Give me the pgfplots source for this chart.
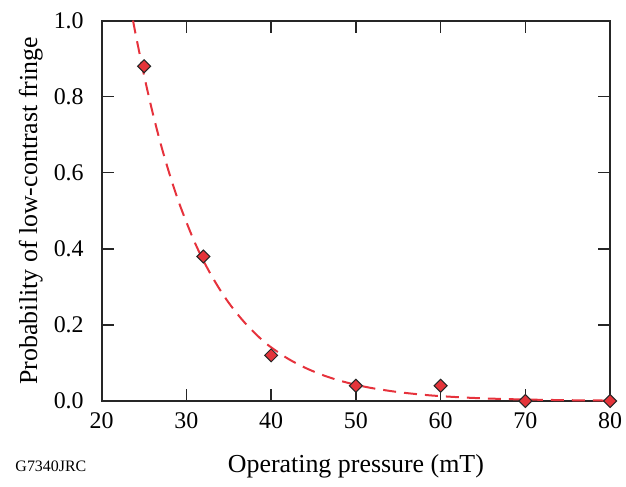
\documentclass[border=0pt]{standalone}
\usepackage{pgfplots}
\pgfplotsset{compat=1.18}
\usepackage{fontspec}
\setmainfont{Liberation Serif}
\definecolor{mred}{RGB}{228,52,58}
\definecolor{lred}{RGB}{230,50,60}
\begin{document}
\begin{tikzpicture}
\begin{axis}[
  scale only axis,
  width=254.2bp, height=190.2bp,
  xmin=20, xmax=80, ymin=0, ymax=1.0,
  xtick={20,30,...,80},
  ytick={0,0.2,...,1.0},
  tick align=inside,
  major tick length=6bp,
  minor tick num=0,
  axis line style={line width=1bp, black!85},
  every tick/.style={line width=0.7bp, black!85},
  /pgf/number format/assume math mode=true,
  tick label style={font=\fontsize{12}{14}\selectfont},
  yticklabel style={/pgf/number format/.cd, fixed, fixed zerofill, precision=1},
  yticklabel shift=5.5bp,
  xticklabel shift=2.5bp,
  xlabel={Operating pressure (mT)},
  ylabel={Probability of low-contrast fringe},
  label style={font=\fontsize{13}{15}\selectfont},
  xlabel style={at={(rel axis cs:0.5,-0.171)}, anchor=center},
  ylabel style={at={(rel axis cs:-0.1397,0.5)}, anchor=center, rotate=0},
  clip mode=individual,
]
\addplot[lred, line width=1bp, dash pattern=on 6.5bp off 4bp, no marks, smooth] coordinates {
(23.7,1.0) (24,0.965) (25,0.856) (26,0.759) (27,0.673) (28,0.597) (29,0.529)
(30,0.470) (31,0.416) (32,0.369) (33,0.328) (34,0.291) (35,0.258) (36,0.229)
(37,0.203) (38,0.180) (39,0.159) (40,0.141) (42,0.111) (44,0.0875) (46,0.0688)
(48,0.0541) (50,0.0426) (52,0.0335) (55,0.0234) (58,0.0163) (60,0.0128)
(63,0.00895) (66,0.00624) (70,0.00386) (75,0.00212) (80,0.00116)
};
\addplot[only marks, mark=square*, mark size=2.3pt,
  mark options={rotate=45, fill=mred, draw=black!85, line width=0.5bp}] coordinates {
(25,0.88) (32,0.38) (40,0.12) (50,0.04) (60,0.04) (70,0.0) (80,0.0)
};
\coordinate (sw) at (rel axis cs:0,0);
\end{axis}
\node[anchor=west, inner sep=0pt, font=\fontsize{8}{9}\selectfont] at ([shift={(-43.3bp,-32.5bp)}]sw) {G7340JRC};
\pgfresetboundingbox
\path ([shift={(-50.85bp,-43bp)}]sw) rectangle ([shift={(262.15bp,200.5bp)}]sw);
\end{tikzpicture}
\end{document}
